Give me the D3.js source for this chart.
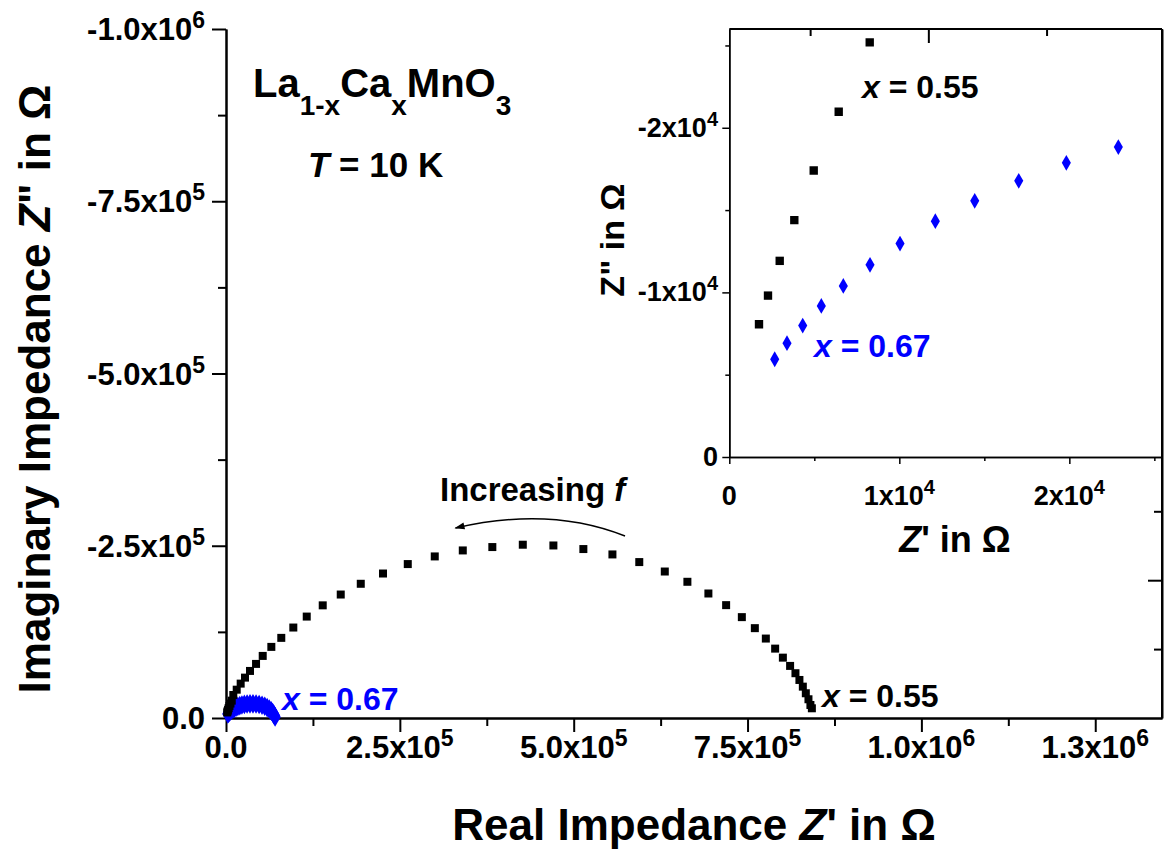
<!DOCTYPE html>
<html><head><meta charset="utf-8">
<script src="https://cdn.jsdelivr.net/npm/d3@7"></script>
<style>
body{margin:0;background:#fff}
text{font-family:"Liberation Sans",Arial,sans-serif;font-weight:bold}
</style>
</head><body>
<svg id="c" width="1167" height="852"></svg>
<script>
// ---------- data ----------
const realX055 = [1747, 2276, 2965, 3824, 4965, 6435, 8259, 10500, 15400, 21100, 27300, 34500, 43200, 52800, 65200, 79500, 96800, 116100, 139100, 165000, 193800, 225800, 261400, 300200, 340500, 383000, 426800, 470800, 513900, 555700, 594300, 631000, 663500, 693700, 719200, 741800, 760500, 776300, 789700, 800800, 811200, 818900, 824600, 829500, 833800, 837600, 840400, 842500];
const imagX055 = [-8067, -9805, -11915, -14389, -17404, -20973, -25186, -33400, -41100, -49900, -58600, -68300, -78500, -90100, -103200, -116300, -131300, -147200, -163500, -179200, -194800, -209700, -223400, -234500, -243200, -248100, -251500, -250400, -245200, -237400, -226300, -212600, -197700, -180700, -163800, -146400, -130400, -115300, -100700, -87600, -75600, -65000, -55200, -45500, -35900, -27200, -18900, -14100];
const realX067 = [2671, 3394, 4318, 5412, 6706, 8276, 10041, 12118, 14435, 17024, 19824, 22882, 26400, 30300, 34500, 38800, 43200, 47600, 51800, 55700, 59200, 62300, 64900, 67000, 68600, 69800, 70600];
const imagX067 = [-5939, -6912, -7982, -9179, -10395, -11672, -12967, -14328, -15562, -16778, -17872, -18827, -19700, -20300, -20600, -20600, -20300, -19600, -18500, -17000, -15100, -12900, -10500, -8000, -5600, -3400, -1500];

const mainXDomain = [0, 1.346e6];
const mainYDomain = [0, -1.0e6];
const mainXTicks = [0, 2.5e5, 5.0e5, 7.5e5, 1.0e6, 1.25e6];
const mainXTickLabels = ["0.0", "2.5x10^5", "5.0x10^5", "7.5x10^5", "1.0x10^6", "1.3x10^6"];
const mainYTicks = [0, -2.5e5, -5.0e5, -7.5e5, -1.0e6];
const mainYTickLabels = ["0.0", "-2.5x10^5", "-5.0x10^5", "-7.5x10^5", "-1.0x10^6"];
const mainRightTicks = [-1e5, -2e5, -3e5, -4e5, -5e5, -6e5, -7e5, -8e5, -9e5];
const mainTopTicks = [8.4e5, 1.01e6, 1.18e6];

const insetXDomain = [0, 2.545e4];
const insetYDomain = [0, -2.6e4];
const insetXTicks = [0, 1e4, 2e4];
const insetXTickLabels = ["0", "1x10^4", "2x10^4"];
const insetYTicks = [0, -1e4, -2e4];
const insetYTickLabels = ["0", "-1x10^4", "-2x10^4"];

// ---------- layout ----------
const M = {left: 226, right: 1162, top: 29, bottom: 718};
const I = {left: 729.3, right: 1162, top: 29, bottom: 457};

const svg = d3.select("#c");
const x = d3.scaleLinear().domain(mainXDomain).range([M.left, M.right]);
const y = d3.scaleLinear().domain(mainYDomain).range([M.bottom, M.top]);
const xi = d3.scaleLinear().domain(insetXDomain).range([I.left, I.right]);
const yi = d3.scaleLinear().domain(insetYDomain).range([I.bottom, I.top]);

function rich(textSel, str, supSize, rise) {
  const parts = str.split("^");
  textSel.append("tspan").text(parts[0]);
  if (parts[1]) textSel.append("tspan").attr("font-size", supSize).attr("dy", -rise).text(parts[1]);
}
function styleAxis(g, w) {
  g.select(".domain").attr("stroke", "#000").attr("stroke-width", w);
  g.selectAll(".tick line").attr("stroke", "#000").attr("stroke-width", w);
  g.selectAll(".tick text").remove();
}

// ---------- main axes ----------
const mx = d3.range(0, mainXDomain[1], 1.25e5);
const my = d3.range(0, 1.0e6 + 1, 1.25e5).map(v => -v);

svg.append("g").attr("transform", `translate(0,${M.bottom})`)
  .call(d3.axisBottom(x).tickValues(mx.filter((v, i) => i % 2 === 1)).tickSize(8).tickSizeOuter(0))
  .call(g => styleAxis(g, 2));
svg.append("g").attr("transform", `translate(0,${M.bottom})`)
  .call(d3.axisBottom(x).tickValues(mainXTicks).tickSize(14).tickSizeOuter(0))
  .call(g => styleAxis(g, 2));
svg.append("g").attr("transform", `translate(${M.left},0)`)
  .call(d3.axisLeft(y).tickValues(my.filter((v, i) => i % 2 === 1)).tickSize(8).tickSizeOuter(0))
  .call(g => styleAxis(g, 2));
svg.append("g").attr("transform", `translate(${M.left},0)`)
  .call(d3.axisLeft(y).tickValues(mainYTicks).tickSize(14).tickSizeOuter(0))
  .call(g => styleAxis(g, 2));
// right mirror axis (inward ticks)
svg.append("g").attr("transform", `translate(${M.right},0)`)
  .call(d3.axisRight(y).tickValues(mainRightTicks).tickSizeOuter(0).tickSize(0))
  .call(g => styleAxis(g, 2))
  .call(g => g.selectAll(".tick line").attr("x2", (d) => (Math.round(-d / 1e5) % 2 === 0 ? -14 : -8)));

// main tick labels
mainXTicks.forEach((v, i) => {
  const t = svg.append("text").attr("x", x(v)).attr("y", 758).attr("text-anchor", "middle")
    .attr("font-size", 31);
  rich(t, mainXTickLabels[i], 23, 12);
});
mainYTicks.forEach((v, i) => {
  const t = svg.append("text").attr("x", 205).attr("y", y(v) + 11).attr("text-anchor", "end")
    .attr("font-size", 31);
  rich(t, mainYTickLabels[i], 23, 12);
});

// main titles
const xt = svg.append("text").attr("x", (M.left + M.right) / 2).attr("y", 840).attr("text-anchor", "middle").attr("font-size", 44);
xt.append("tspan").text("Real Impedance ");
xt.append("tspan").attr("font-style", "italic").text("Z");
xt.append("tspan").text("' in Ω");
const yt = svg.append("text").attr("transform", "translate(50,389) rotate(-90)").attr("text-anchor", "middle").attr("font-size", 44);
yt.append("tspan").text("Imaginary Impedance ");
yt.append("tspan").attr("font-style", "italic").text("Z");
yt.append("tspan").text("\" in Ω");

// ---------- main data ----------
const d055 = realX055.map((r, i) => ({r, im: imagX055[i]}));
const d067 = realX067.map((r, i) => ({r, im: imagX067[i]}));
const sq = d3.symbol().type(d3.symbolSquare).size(64);
const dia = d3.symbol().type(d3.symbolDiamond).size(80);

svg.append("g").selectAll("path").data(d067).join("path")
  .attr("d", dia).attr("fill", "#0000ff").attr("stroke", "#0000ff").attr("stroke-width", 1.5)
  .attr("transform", d => `translate(${x(d.r)},${y(d.im)})`);
svg.append("g").selectAll("path").data(d055).join("path")
  .attr("d", sq).attr("fill", "#000")
  .attr("transform", d => `translate(${x(d.r)},${y(d.im)})`);

// main annotations
function ann(px, py, parts, size, color) {
  const t = svg.append("text").attr("x", px).attr("y", py).attr("font-size", size).attr("fill", color);
  parts.forEach(p => {
    const s = t.append("tspan").text(p.t);
    if (p.i) s.attr("font-style", "italic");
    if (p.fs) s.attr("font-size", p.fs);
    if (p.dy) s.attr("dy", p.dy);
  });
  return t;
}
ann(x(8.05e4), y(-1.16e4), [{t: "x", i: 1}, {t: " = 0.67"}], 32, "#0000ff");
ann(x(8.571e5), y(-1.6e4), [{t: "x", i: 1}, {t: " = 0.55"}], 32, "#000");
ann(x(3.88e4), y(-9.013e5), [{t: "La"}, {t: "1-x", fs: 28, dy: 18}, {t: "Ca", dy: -18}, {t: "x", fs: 28, dy: 18}, {t: "MnO", dy: -18}, {t: "3", fs: 28, dy: 18}], 40, "#000");
ann(x(1.179e5), y(-7.852e5), [{t: "T", i: 1}, {t: " = 10 K"}], 35, "#000");
ann(x(3.077e5), y(-3.15e5), [{t: "Increasing "}, {t: "f", i: 1}], 33, "#000");

// arrow
const arrowPts = [[5.738e5, -2.642e5], [4.659e5, -3.077e5], [3.30e5, -2.758e5]];
const p0 = arrowPts.map(p => [x(p[0]), y(p[1])]);
svg.append("defs").append("marker").attr("id", "ah").attr("viewBox", "0 0 10 10")
  .attr("refX", 9).attr("refY", 5).attr("markerWidth", 16).attr("markerHeight", 10)
  .attr("markerUnits", "userSpaceOnUse").attr("orient", "auto")
  .append("path").attr("d", "M0,1.5 L10,5 L0,8.5 Z").attr("fill", "#000");
svg.append("path")
  .attr("d", `M${p0[0][0]},${p0[0][1]} Q${p0[1][0]},${p0[1][1]} ${p0[2][0]},${p0[2][1]}`)
  .attr("fill", "none").attr("stroke", "#000").attr("stroke-width", 1.5).attr("marker-end", "url(#ah)");

// ---------- inset ----------
const ins = svg.append("g");
ins.append("rect").attr("x", I.left).attr("y", I.top).attr("width", I.right - I.left).attr("height", I.bottom - I.top)
  .attr("fill", "#fff");
ins.append("defs").append("clipPath").attr("id", "clipI").append("rect")
  .attr("x", I.left).attr("y", I.top).attr("width", I.right - I.left).attr("height", I.bottom - I.top);

const ix = d3.range(0, insetXDomain[1], 5e3);
const iy = d3.range(0, 2.6e4, 5e3).map(v => -v);
ins.append("g").attr("transform", `translate(0,${I.bottom})`)
  .call(d3.axisBottom(xi).tickValues(ix.filter((v, i) => i % 2 === 1)).tickSize(4).tickSizeOuter(0))
  .call(g => styleAxis(g, 1.5));
ins.append("g").attr("transform", `translate(0,${I.bottom})`)
  .call(d3.axisBottom(xi).tickValues(insetXTicks).tickSize(7).tickSizeOuter(0))
  .call(g => styleAxis(g, 1.5));
ins.append("g").attr("transform", `translate(${I.left},0)`)
  .call(d3.axisLeft(yi).tickValues(iy.filter((v, i) => i % 2 === 1)).tickSize(4).tickSizeOuter(0))
  .call(g => styleAxis(g, 1.5));
ins.append("g").attr("transform", `translate(${I.left},0)`)
  .call(d3.axisLeft(yi).tickValues(insetYTicks).tickSize(7).tickSizeOuter(0))
  .call(g => styleAxis(g, 1.5));
// top border with ticks (mirror of main x)
const topAx = d3.scaleLinear().domain(mainXDomain).range([M.left, M.right]);
ins.append("g").attr("transform", `translate(0,${I.top})`)
  .call(d3.axisBottom(topAx).tickValues(mainTopTicks).tickSize(0).tickSizeOuter(0))
  .call(g => styleAxis(g, 2))
  .call(g => g.select(".domain").remove())
  .call(g => g.selectAll(".tick line").attr("y2", (d, i) => (i === 1 ? 14 : 7)));
ins.append("line").attr("x1", I.left).attr("x2", I.right).attr("y1", I.top).attr("y2", I.top)
  .attr("stroke", "#000").attr("stroke-width", 2);
// right border (shared)
svg.append("line").attr("x1", M.right).attr("x2", M.right).attr("y1", M.top).attr("y2", M.bottom)
  .attr("stroke", "#000").attr("stroke-width", 2);

insetXTicks.forEach((v, i) => {
  const t = ins.append("text").attr("x", xi(v)).attr("y", 505).attr("text-anchor", "middle").attr("font-size", 27);
  rich(t, insetXTickLabels[i], 20, 11);
});
insetYTicks.forEach((v, i) => {
  const t = ins.append("text").attr("x", 718).attr("y", yi(v) + 9).attr("text-anchor", "end").attr("font-size", 27);
  rich(t, insetYTickLabels[i], 20, 11);
});
const ixt = ins.append("text").attr("x", 955).attr("y", 552).attr("text-anchor", "middle").attr("font-size", 36);
ixt.append("tspan").attr("font-style", "italic").text("Z");
ixt.append("tspan").text("' in Ω");
const iyt = ins.append("text").attr("transform", "translate(624,240) rotate(-90)").attr("text-anchor", "middle").attr("font-size", 34);
iyt.append("tspan").text("Z\" in Ω");

const idata = ins.append("g").attr("clip-path", "url(#clipI)");
const sqI = d3.symbol().type(d3.symbolSquare).size(70);
const diaI = d3.symbol().type(d3.symbolDiamond).size(72);
idata.append("g").selectAll("path").data(d055).join("path")
  .attr("d", sqI).attr("fill", "#000")
  .attr("transform", d => `translate(${xi(d.r)},${yi(d.im)})`);
idata.append("g").selectAll("path").data(d067).join("path")
  .attr("d", diaI).attr("fill", "#0000ff")
  .attr("transform", d => `translate(${xi(d.r)},${yi(d.im)})`);

function annI(dx, dy, parts, size, color) {
  const t = ins.append("text").attr("x", xi(dx)).attr("y", yi(dy)).attr("font-size", size).attr("fill", color);
  parts.forEach(p => {
    const s = t.append("tspan").text(p.t);
    if (p.i) s.attr("font-style", "italic");
  });
}
annI(7805, -21808, [{t: "x", i: 1}, {t: " = 0.55"}], 32, "#000");
annI(4982, -6075, [{t: "x", i: 1}, {t: " = 0.67"}], 32, "#0000ff");
</script>
</body></html>
